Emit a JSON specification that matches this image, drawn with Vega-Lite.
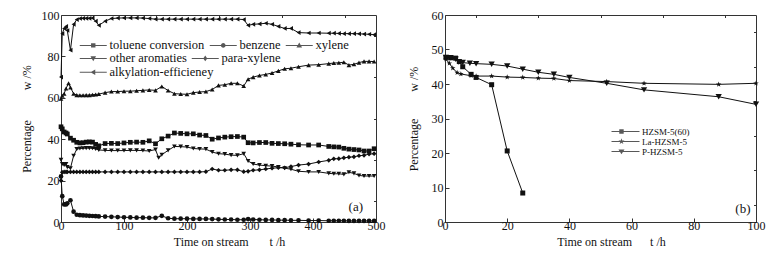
{
"$schema": "https://vega.github.io/schema/vega-lite/v6.json",
"background": "white",
"padding": {"left": 19, "top": 8, "right": 5, "bottom": 5},
"spacing": 20,
"config": {
 "font": "Liberation Serif",
 "view": {"stroke": "#333", "strokeWidth": 1},
 "axis": {"labelFont": "Liberation Serif", "titleFont": "Liberation Serif", "labelFontSize": 12, "titleFontSize": 12, "titleFontWeight": "normal", "labelColor": "#111", "titleColor": "#111", "tickColor": "#333", "domain": false, "grid": false, "labelFlush": false, "labelOverlap": false},
 "legend": {"labelFont": "Liberation Serif", "labelColor": "#111", "padding": 0, "title": null, "symbolFillColor": "#111", "symbolStrokeWidth": 0}
},
"datasets": {
 "a": [
{"s":"alk","t":0,"v":70},{"s":"alk","t":2,"v":91},{"s":"alk","t":5,"v":93.5},{"s":"alk","t":8,"v":94.5},{"s":"alk","t":10,"v":92.5},{"s":"alk","t":15,"v":83},{"s":"alk","t":20,"v":95.5},{"s":"alk","t":25,"v":97.8},{"s":"alk","t":30,"v":98.3},{"s":"alk","t":35,"v":98.4},{"s":"alk","t":40,"v":98.4},{"s":"alk","t":45,"v":98.4},{"s":"alk","t":50,"v":98.5},{"s":"alk","t":55,"v":97},{"s":"alk","t":60,"v":95},{"s":"alk","t":70,"v":97},{"s":"alk","t":80,"v":98.3},{"s":"alk","t":90,"v":98.5},{"s":"alk","t":100,"v":98.6},{"s":"alk","t":110,"v":98.6},{"s":"alk","t":120,"v":98.6},{"s":"alk","t":130,"v":98.5},{"s":"alk","t":140,"v":98.3},{"s":"alk","t":150,"v":98},{"s":"alk","t":160,"v":98},{"s":"alk","t":170,"v":98},{"s":"alk","t":180,"v":98},{"s":"alk","t":190,"v":98},{"s":"alk","t":200,"v":98},{"s":"alk","t":210,"v":98},{"s":"alk","t":220,"v":98},{"s":"alk","t":230,"v":98},{"s":"alk","t":240,"v":98},{"s":"alk","t":250,"v":98},{"s":"alk","t":260,"v":98},{"s":"alk","t":270,"v":98},{"s":"alk","t":280,"v":98},{"s":"alk","t":290,"v":97.8},{"s":"alk","t":297,"v":95},{"s":"alk","t":305,"v":95.5},{"s":"alk","t":315,"v":95.7},{"s":"alk","t":325,"v":96},{"s":"alk","t":335,"v":95.5},{"s":"alk","t":345,"v":94.5},{"s":"alk","t":355,"v":93.5},{"s":"alk","t":365,"v":93.5},{"s":"alk","t":377,"v":91.5},{"s":"alk","t":393,"v":91.3},{"s":"alk","t":409,"v":91.3},{"s":"alk","t":425,"v":91.2},{"s":"alk","t":433,"v":91.2},{"s":"alk","t":441,"v":91.1},{"s":"alk","t":449,"v":91},{"s":"alk","t":457,"v":91},{"s":"alk","t":465,"v":91},{"s":"alk","t":473,"v":90.9},{"s":"alk","t":481,"v":90.8},{"s":"alk","t":489,"v":90.7},{"s":"alk","t":497,"v":90.5},
{"s":"xyl","t":0,"v":59.5},{"s":"xyl","t":2,"v":61},{"s":"xyl","t":5,"v":62},{"s":"xyl","t":8,"v":64.5},{"s":"xyl","t":12,"v":67},{"s":"xyl","t":15,"v":65},{"s":"xyl","t":20,"v":62},{"s":"xyl","t":25,"v":61.3},{"s":"xyl","t":30,"v":61.2},{"s":"xyl","t":35,"v":61.2},{"s":"xyl","t":40,"v":61.3},{"s":"xyl","t":45,"v":61.3},{"s":"xyl","t":50,"v":61.5},{"s":"xyl","t":55,"v":61.6},{"s":"xyl","t":60,"v":61.8},{"s":"xyl","t":70,"v":62.5},{"s":"xyl","t":80,"v":63},{"s":"xyl","t":90,"v":63},{"s":"xyl","t":100,"v":63.2},{"s":"xyl","t":110,"v":63.2},{"s":"xyl","t":120,"v":63.4},{"s":"xyl","t":130,"v":63.6},{"s":"xyl","t":140,"v":63.8},{"s":"xyl","t":150,"v":63.6},{"s":"xyl","t":160,"v":65.5},{"s":"xyl","t":170,"v":63.5},{"s":"xyl","t":180,"v":62},{"s":"xyl","t":190,"v":61.8},{"s":"xyl","t":200,"v":61.7},{"s":"xyl","t":210,"v":62.5},{"s":"xyl","t":220,"v":62.8},{"s":"xyl","t":230,"v":63},{"s":"xyl","t":240,"v":64},{"s":"xyl","t":250,"v":66},{"s":"xyl","t":260,"v":66.3},{"s":"xyl","t":270,"v":67},{"s":"xyl","t":280,"v":67},{"s":"xyl","t":290,"v":65.7},{"s":"xyl","t":297,"v":69},{"s":"xyl","t":305,"v":70},{"s":"xyl","t":315,"v":70.8},{"s":"xyl","t":325,"v":71.3},{"s":"xyl","t":335,"v":72},{"s":"xyl","t":345,"v":73},{"s":"xyl","t":355,"v":74},{"s":"xyl","t":365,"v":74.3},{"s":"xyl","t":377,"v":75},{"s":"xyl","t":393,"v":75.8},{"s":"xyl","t":409,"v":76},{"s":"xyl","t":425,"v":76.5},{"s":"xyl","t":433,"v":76.8},{"s":"xyl","t":441,"v":76.9},{"s":"xyl","t":449,"v":77.2},{"s":"xyl","t":457,"v":75.8},{"s":"xyl","t":465,"v":76.2},{"s":"xyl","t":473,"v":77},{"s":"xyl","t":481,"v":77.6},{"s":"xyl","t":489,"v":77.6},{"s":"xyl","t":497,"v":77.5},
{"s":"tol","t":0,"v":46},{"s":"tol","t":2,"v":45},{"s":"tol","t":5,"v":43.5},{"s":"tol","t":8,"v":43},{"s":"tol","t":10,"v":42.5},{"s":"tol","t":15,"v":40.5},{"s":"tol","t":20,"v":39.5},{"s":"tol","t":25,"v":38.5},{"s":"tol","t":30,"v":38.2},{"s":"tol","t":35,"v":38.3},{"s":"tol","t":40,"v":38.6},{"s":"tol","t":45,"v":38.7},{"s":"tol","t":50,"v":38.6},{"s":"tol","t":55,"v":37.5},{"s":"tol","t":60,"v":36.8},{"s":"tol","t":70,"v":37.9},{"s":"tol","t":80,"v":38},{"s":"tol","t":90,"v":37.9},{"s":"tol","t":100,"v":38.2},{"s":"tol","t":110,"v":38.5},{"s":"tol","t":120,"v":38.6},{"s":"tol","t":130,"v":38.5},{"s":"tol","t":140,"v":39.2},{"s":"tol","t":150,"v":37.8},{"s":"tol","t":160,"v":40.2},{"s":"tol","t":170,"v":41.5},{"s":"tol","t":180,"v":43},{"s":"tol","t":190,"v":42.8},{"s":"tol","t":200,"v":42.6},{"s":"tol","t":210,"v":42.6},{"s":"tol","t":220,"v":42},{"s":"tol","t":230,"v":41.8},{"s":"tol","t":240,"v":40},{"s":"tol","t":250,"v":40.6},{"s":"tol","t":260,"v":41},{"s":"tol","t":270,"v":41.2},{"s":"tol","t":280,"v":41.3},{"s":"tol","t":290,"v":41},{"s":"tol","t":297,"v":38.3},{"s":"tol","t":305,"v":38.2},{"s":"tol","t":315,"v":38.4},{"s":"tol","t":325,"v":38.4},{"s":"tol","t":335,"v":38},{"s":"tol","t":345,"v":37.9},{"s":"tol","t":355,"v":37.8},{"s":"tol","t":365,"v":37.6},{"s":"tol","t":377,"v":37.3},{"s":"tol","t":393,"v":37.2},{"s":"tol","t":409,"v":37.2},{"s":"tol","t":425,"v":36.5},{"s":"tol","t":433,"v":36.3},{"s":"tol","t":441,"v":36.2},{"s":"tol","t":449,"v":35.6},{"s":"tol","t":457,"v":35.2},{"s":"tol","t":465,"v":35},{"s":"tol","t":473,"v":34.8},{"s":"tol","t":481,"v":34.3},{"s":"tol","t":489,"v":34.3},{"s":"tol","t":497,"v":35.4},
{"s":"oth","t":0,"v":30},{"s":"oth","t":2,"v":28},{"s":"oth","t":5,"v":27.5},{"s":"oth","t":8,"v":28},{"s":"oth","t":10,"v":26.5},{"s":"oth","t":15,"v":26},{"s":"oth","t":20,"v":32},{"s":"oth","t":25,"v":35.2},{"s":"oth","t":30,"v":35.5},{"s":"oth","t":35,"v":35.6},{"s":"oth","t":40,"v":35.7},{"s":"oth","t":45,"v":35.7},{"s":"oth","t":50,"v":35.6},{"s":"oth","t":55,"v":35.3},{"s":"oth","t":60,"v":34.8},{"s":"oth","t":70,"v":34.6},{"s":"oth","t":80,"v":34.5},{"s":"oth","t":90,"v":34.5},{"s":"oth","t":100,"v":34.5},{"s":"oth","t":110,"v":34.6},{"s":"oth","t":120,"v":34.6},{"s":"oth","t":130,"v":34.5},{"s":"oth","t":140,"v":34.3},{"s":"oth","t":150,"v":35},{"s":"oth","t":155,"v":31},{"s":"oth","t":160,"v":32.5},{"s":"oth","t":170,"v":34.6},{"s":"oth","t":180,"v":36.5},{"s":"oth","t":190,"v":36.4},{"s":"oth","t":200,"v":36.2},{"s":"oth","t":210,"v":35.5},{"s":"oth","t":220,"v":35.3},{"s":"oth","t":230,"v":35.2},{"s":"oth","t":240,"v":33.8},{"s":"oth","t":250,"v":33},{"s":"oth","t":260,"v":32.8},{"s":"oth","t":270,"v":32.3},{"s":"oth","t":280,"v":32.2},{"s":"oth","t":290,"v":33},{"s":"oth","t":297,"v":29.5},{"s":"oth","t":305,"v":28},{"s":"oth","t":315,"v":27.5},{"s":"oth","t":325,"v":27.2},{"s":"oth","t":335,"v":27},{"s":"oth","t":345,"v":26.6},{"s":"oth","t":355,"v":26},{"s":"oth","t":365,"v":25.5},{"s":"oth","t":377,"v":24.5},{"s":"oth","t":393,"v":24.2},{"s":"oth","t":409,"v":24.2},{"s":"oth","t":425,"v":23.5},{"s":"oth","t":433,"v":23.3},{"s":"oth","t":441,"v":23.3},{"s":"oth","t":449,"v":23},{"s":"oth","t":457,"v":24},{"s":"oth","t":465,"v":23.5},{"s":"oth","t":473,"v":22.5},{"s":"oth","t":481,"v":22.2},{"s":"oth","t":489,"v":22.2},{"s":"oth","t":497,"v":22.2},
{"s":"para","t":0,"v":20},{"s":"para","t":2,"v":24},{"s":"para","t":5,"v":24.2},{"s":"para","t":8,"v":24.2},{"s":"para","t":10,"v":24.2},{"s":"para","t":15,"v":24.2},{"s":"para","t":20,"v":24.2},{"s":"para","t":25,"v":24.2},{"s":"para","t":30,"v":24.2},{"s":"para","t":35,"v":24.2},{"s":"para","t":40,"v":24.2},{"s":"para","t":45,"v":24.2},{"s":"para","t":50,"v":24.2},{"s":"para","t":55,"v":24.2},{"s":"para","t":60,"v":24.2},{"s":"para","t":70,"v":24.2},{"s":"para","t":80,"v":24.2},{"s":"para","t":90,"v":24.2},{"s":"para","t":100,"v":24.2},{"s":"para","t":110,"v":24.2},{"s":"para","t":120,"v":24.2},{"s":"para","t":130,"v":24.2},{"s":"para","t":140,"v":24.2},{"s":"para","t":150,"v":24.2},{"s":"para","t":160,"v":24.2},{"s":"para","t":170,"v":24.2},{"s":"para","t":180,"v":24.2},{"s":"para","t":190,"v":24.2},{"s":"para","t":200,"v":24.2},{"s":"para","t":210,"v":24.2},{"s":"para","t":220,"v":24.2},{"s":"para","t":230,"v":24.3},{"s":"para","t":240,"v":25.6},{"s":"para","t":250,"v":25},{"s":"para","t":260,"v":25},{"s":"para","t":270,"v":25.2},{"s":"para","t":280,"v":25.2},{"s":"para","t":290,"v":24.3},{"s":"para","t":297,"v":24.5},{"s":"para","t":305,"v":25},{"s":"para","t":315,"v":25.2},{"s":"para","t":325,"v":25.6},{"s":"para","t":335,"v":26},{"s":"para","t":345,"v":26.2},{"s":"para","t":355,"v":26.2},{"s":"para","t":365,"v":26.8},{"s":"para","t":377,"v":27.5},{"s":"para","t":393,"v":28},{"s":"para","t":409,"v":29},{"s":"para","t":425,"v":29.8},{"s":"para","t":433,"v":30.5},{"s":"para","t":441,"v":30.6},{"s":"para","t":449,"v":31},{"s":"para","t":457,"v":31.3},{"s":"para","t":465,"v":31.5},{"s":"para","t":473,"v":32},{"s":"para","t":481,"v":32.2},{"s":"para","t":489,"v":32.8},{"s":"para","t":497,"v":33},
{"s":"ben","t":0,"v":22},{"s":"ben","t":2,"v":12.5},{"s":"ben","t":5,"v":8.5},{"s":"ben","t":8,"v":8.5},{"s":"ben","t":10,"v":9},{"s":"ben","t":15,"v":10.5},{"s":"ben","t":20,"v":5},{"s":"ben","t":25,"v":3.5},{"s":"ben","t":30,"v":3.3},{"s":"ben","t":35,"v":3.2},{"s":"ben","t":40,"v":3.1},{"s":"ben","t":45,"v":3},{"s":"ben","t":50,"v":2.9},{"s":"ben","t":55,"v":2.8},{"s":"ben","t":60,"v":2.7},{"s":"ben","t":70,"v":2.6},{"s":"ben","t":80,"v":2.5},{"s":"ben","t":90,"v":2.4},{"s":"ben","t":100,"v":2.3},{"s":"ben","t":110,"v":2.2},{"s":"ben","t":120,"v":2.1},{"s":"ben","t":130,"v":2.1},{"s":"ben","t":140,"v":2},{"s":"ben","t":150,"v":2},{"s":"ben","t":160,"v":3},{"s":"ben","t":170,"v":1.8},{"s":"ben","t":180,"v":1.6},{"s":"ben","t":190,"v":1.6},{"s":"ben","t":200,"v":1.6},{"s":"ben","t":210,"v":1.5},{"s":"ben","t":220,"v":1.5},{"s":"ben","t":230,"v":1.5},{"s":"ben","t":240,"v":1.4},{"s":"ben","t":250,"v":1.3},{"s":"ben","t":260,"v":1.2},{"s":"ben","t":270,"v":1.2},{"s":"ben","t":280,"v":1.1},{"s":"ben","t":290,"v":1.1},{"s":"ben","t":297,"v":1.4},{"s":"ben","t":305,"v":1.2},{"s":"ben","t":315,"v":1.1},{"s":"ben","t":325,"v":1},{"s":"ben","t":335,"v":1},{"s":"ben","t":345,"v":0.9},{"s":"ben","t":355,"v":0.9},{"s":"ben","t":365,"v":0.8},{"s":"ben","t":377,"v":0.8},{"s":"ben","t":393,"v":0.7},{"s":"ben","t":409,"v":0.7},{"s":"ben","t":425,"v":0.6},{"s":"ben","t":433,"v":0.6},{"s":"ben","t":441,"v":0.6},{"s":"ben","t":449,"v":0.6},{"s":"ben","t":457,"v":0.5},{"s":"ben","t":465,"v":0.5},{"s":"ben","t":473,"v":0.5},{"s":"ben","t":481,"v":0.5},{"s":"ben","t":489,"v":0.5},{"s":"ben","t":497,"v":0.5}
 ],
 "b": [
{"s":"HZSM-5(60)","t":0.3,"v":47.7},{"s":"HZSM-5(60)","t":1.8,"v":47.6},{"s":"HZSM-5(60)","t":3.4,"v":47.5},{"s":"HZSM-5(60)","t":4.6,"v":46.5},{"s":"HZSM-5(60)","t":5.7,"v":45},{"s":"HZSM-5(60)","t":8.4,"v":42.8},{"s":"HZSM-5(60)","t":10,"v":41.9},{"s":"HZSM-5(60)","t":15,"v":39.8},{"s":"HZSM-5(60)","t":20,"v":20.6},{"s":"HZSM-5(60)","t":25,"v":8.4},
{"s":"La-HZSM-5","t":0.3,"v":47.2},{"s":"La-HZSM-5","t":1.4,"v":46},{"s":"La-HZSM-5","t":2.5,"v":44.6},{"s":"La-HZSM-5","t":3.9,"v":43.3},{"s":"La-HZSM-5","t":5.1,"v":42.9},{"s":"La-HZSM-5","t":8.4,"v":42.4},{"s":"La-HZSM-5","t":10,"v":42.3},{"s":"La-HZSM-5","t":15,"v":42.3},{"s":"La-HZSM-5","t":20,"v":42},{"s":"La-HZSM-5","t":25,"v":41.9},{"s":"La-HZSM-5","t":30,"v":41.7},{"s":"La-HZSM-5","t":35,"v":41.6},{"s":"La-HZSM-5","t":40,"v":41},{"s":"La-HZSM-5","t":52,"v":40.7},{"s":"La-HZSM-5","t":64,"v":40.2},{"s":"La-HZSM-5","t":88,"v":39.9},{"s":"La-HZSM-5","t":100,"v":40.2},
{"s":"P-HZSM-5","t":0.3,"v":47.7},{"s":"P-HZSM-5","t":1.8,"v":47.6},{"s":"P-HZSM-5","t":3.4,"v":47.2},{"s":"P-HZSM-5","t":4.4,"v":46.4},{"s":"P-HZSM-5","t":5.7,"v":46.2},{"s":"P-HZSM-5","t":8,"v":46},{"s":"P-HZSM-5","t":10,"v":45.9},{"s":"P-HZSM-5","t":15,"v":45.7},{"s":"P-HZSM-5","t":20,"v":45.2},{"s":"P-HZSM-5","t":25,"v":44.3},{"s":"P-HZSM-5","t":30,"v":43.4},{"s":"P-HZSM-5","t":35,"v":42.8},{"s":"P-HZSM-5","t":40,"v":41.9},{"s":"P-HZSM-5","t":52,"v":40.2},{"s":"P-HZSM-5","t":64,"v":38.3},{"s":"P-HZSM-5","t":88,"v":36.3},{"s":"P-HZSM-5","t":100,"v":34.1}
 ]
},
"hconcat": [
 {
  "width": 315, "height": 207,
  "data": {"name": "a"},
  "layer": [
   {"mark": {"type": "line", "color": "#111", "strokeWidth": 1},
    "encoding": {
     "x": {"field": "t", "type": "quantitative", "scale": {"domain": [0, 500]}, "axis": {"values": [0,100,200,300,400,500], "tickSize": -4, "labelPadding": 2, "title": "Time on stream\u00a0\u00a0\u00a0\u00a0\u00a0\u00a0\u00a0t /h", "titlePadding": 5, "titleX": 168}},
     "y": {"field": "v", "type": "quantitative", "scale": {"domain": [0, 100]}, "axis": {"values": [0,20,40,60,80,100], "tickSize": -4, "labelPadding": 6, "title": "Percentage\u00a0\u00a0\u00a0\u00a0\u00a0\u00a0\u00a0\u00a0\u00a0\u00a0w /%", "titlePadding": 8}},
     "detail": {"field": "s"}
    }},
   {"mark": {"type": "point", "filled": true, "color": "#111", "size": 22, "opacity": 1},
    "encoding": {
     "x": {"field": "t", "type": "quantitative", "axis": {"values": [50,150,250,350,450], "tickSize": -2.5, "labels": false, "title": null}},
     "y": {"field": "v", "type": "quantitative", "axis": {"values": [10,30,50,70,90], "tickSize": -2.5, "labels": false, "title": null}},
     "shape": {"field": "s", "type": "nominal", "scale": {"domain": ["tol","ben","xyl","oth","para","alk"], "range": ["square","circle","triangle-up","triangle-down","diamond","triangle-left"]}, "legend": null}
    }},
   {"transform": [{"filter": "false"}],
    "mark": {"type": "point", "filled": true, "color": "#111", "size": 100},
    "encoding": {"shape": {"field": "s", "type": "nominal",
      "scale": {"domain": ["tol","ben","xyl"], "range": ["M-1.1,-0.1H4.3V0.1H-1.1ZM1.16,-0.44H2.04V0.44H1.16Z", "M-1.1,-0.1H4.3V0.1H-1.1ZM2.06,0A0.46,0.46,0,1,1,1.14,0A0.46,0.46,0,1,1,2.06,0Z", "M-1.1,-0.1H4.3V0.1H-1.1ZM1.6,-0.56L2.16,0.42L1.04,0.42Z"]},
      "legend": {"orient": "none", "legendX": 18, "legendY": 24, "direction": "horizontal", "symbolSize": 100, "labelFontSize": 12.5, "labelOffset": 18, "columnPadding": 4,
        "labelExpr": "{'tol':'toluene conversion','ben':'benzene','xyl':'xylene','oth':'other aromaties','para':'para-xylene','alk':'alkylation-efficieney'}[datum.label]",
        "encode": {"symbols": {"fill": {"value": "#111"}, "opacity": {"value": 1}}}}}}},
   {"transform": [{"filter": "false"}],
    "mark": {"type": "point", "filled": true, "color": "#111", "size": 100},
    "encoding": {"shape": {"field": "s", "type": "nominal",
      "scale": {"domain": ["oth","para"], "range": ["M-1.1,-0.1H4.3V0.1H-1.1ZM1.6,0.56L1.04,-0.42L2.16,-0.42Z", "M-1.1,-0.1H4.3V0.1H-1.1ZM1.6,-0.56L2.0,0L1.6,0.56L1.2,0Z"]},
      "legend": {"orient": "none", "legendX": 18, "legendY": 37, "direction": "horizontal", "symbolSize": 100, "labelFontSize": 12.5, "labelOffset": 18, "columnPadding": 4,
        "labelExpr": "{'tol':'toluene conversion','ben':'benzene','xyl':'xylene','oth':'other aromaties','para':'para-xylene','alk':'alkylation-efficieney'}[datum.label]",
        "encode": {"symbols": {"fill": {"value": "#111"}, "opacity": {"value": 1}}}}}}},
   {"transform": [{"filter": "false"}],
    "mark": {"type": "point", "filled": true, "color": "#111", "size": 100},
    "encoding": {"shape": {"field": "s", "type": "nominal",
      "scale": {"domain": ["alk"], "range": ["M-1.1,-0.1H4.3V0.1H-1.1ZM1.04,0L2.0,-0.56L2.0,0.56Z"]},
      "legend": {"orient": "none", "legendX": 18, "legendY": 51, "direction": "horizontal", "symbolSize": 100, "labelFontSize": 12.5, "labelOffset": 18, "columnPadding": 4,
        "labelExpr": "{'tol':'toluene conversion','ben':'benzene','xyl':'xylene','oth':'other aromaties','para':'para-xylene','alk':'alkylation-efficieney'}[datum.label]",
        "encode": {"symbols": {"fill": {"value": "#111"}, "opacity": {"value": 1}}}}}}},
   {"data": {"values": [{"label": "(a)"}]},
    "mark": {"type": "text", "font": "Liberation Serif", "fontSize": 13, "color": "#111", "align": "center", "baseline": "middle"},
    "encoding": {"x": {"datum": 468, "type": "quantitative", "axis": null}, "y": {"datum": 7.2, "type": "quantitative", "axis": null}, "text": {"field": "label"}}}
  ],
  "resolve": {"scale": {"shape": "independent"}, "axis": {"x": "independent", "y": "independent"}}
 },
 {
  "width": 311, "height": 207,
  "data": {"name": "b"},
  "layer": [
   {"mark": {"type": "line", "color": "#111", "strokeWidth": 1},
    "encoding": {
     "x": {"field": "t", "type": "quantitative", "scale": {"domain": [0, 100]}, "axis": {"values": [0,20,40,60,80,100], "tickSize": -4, "labelPadding": 2, "title": "Time on stream\u00a0\u00a0\u00a0\u00a0\u00a0\u00a0t /h", "titlePadding": 5, "titleX": 166}},
     "y": {"field": "v", "type": "quantitative", "scale": {"domain": [0, 60]}, "axis": {"values": [0,10,20,30,40,50,60], "tickSize": -4, "labelPadding": 6, "title": "Percentage\u00a0\u00a0\u00a0\u00a0\u00a0\u00a0\u00a0\u00a0\u00a0w /%", "titlePadding": 11}},
     "detail": {"field": "s"}
    }},
   {"mark": {"type": "point", "filled": true, "color": "#111", "opacity": 1},
    "encoding": {
     "x": {"field": "t", "type": "quantitative", "axis": {"values": [10,30,50,70,90], "tickSize": -2.5, "labels": false, "title": null}},
     "y": {"field": "v", "type": "quantitative", "axis": {"values": [5,15,25,35,45,55], "tickSize": -2.5, "labels": false, "title": null}},
     "shape": {"field": "s", "type": "nominal", "scale": {"domain": ["HZSM-5(60)","La-HZSM-5","P-HZSM-5"], "range": ["square", "M0,-1L0.235,-0.324L0.951,-0.309L0.38,0.124L0.588,0.809L0,0.4L-0.588,0.809L-0.38,0.124L-0.951,-0.309L-0.235,-0.324Z", "triangle-down"]}, "legend": null},
     "size": {"field": "s", "type": "nominal", "scale": {"domain": ["HZSM-5(60)","La-HZSM-5","P-HZSM-5"], "range": [25, 40, 30]}, "legend": null}
    }},
   {"transform": [{"filter": "false"}],
    "mark": {"type": "point", "filled": true, "color": "#111", "size": 49},
    "encoding": {"shape": {"field": "s", "type": "nominal",
      "scale": {"domain": ["HZSM-5(60)","La-HZSM-5","P-HZSM-5"], "range": ["M-1.14,-0.14H6.86V0.14H-1.14ZM1.08,-0.63H2.34V0.63H1.08Z", "M-1.14,-0.14H6.86V0.14H-1.14ZM1.71,-0.9L1.92,-0.29L2.57,-0.28L2.05,0.11L2.24,0.73L1.71,0.36L1.18,0.73L1.37,0.11L0.85,-0.28L1.5,-0.29Z", "M-1.14,-0.14H6.86V0.14H-1.14ZM1.71,0.8L0.85,-0.6L2.57,-0.6Z"]},
      "legend": {"orient": "none", "legendX": 166, "legendY": 112, "direction": "vertical", "symbolSize": 49, "labelFontSize": 9, "labelOffset": 22, "rowPadding": -4,
        "encode": {"symbols": {"fill": {"value": "#111"}, "opacity": {"value": 1}}}}}}},
   {"data": {"values": [{"label": "(b)"}]},
    "mark": {"type": "text", "font": "Liberation Serif", "fontSize": 13, "color": "#111", "align": "center", "baseline": "middle"},
    "encoding": {"x": {"datum": 95.8, "type": "quantitative", "axis": null}, "y": {"datum": 3.8, "type": "quantitative", "axis": null}, "text": {"field": "label"}}}
  ],
  "resolve": {"scale": {"shape": "independent"}, "axis": {"x": "independent", "y": "independent"}}
 }
]
}
